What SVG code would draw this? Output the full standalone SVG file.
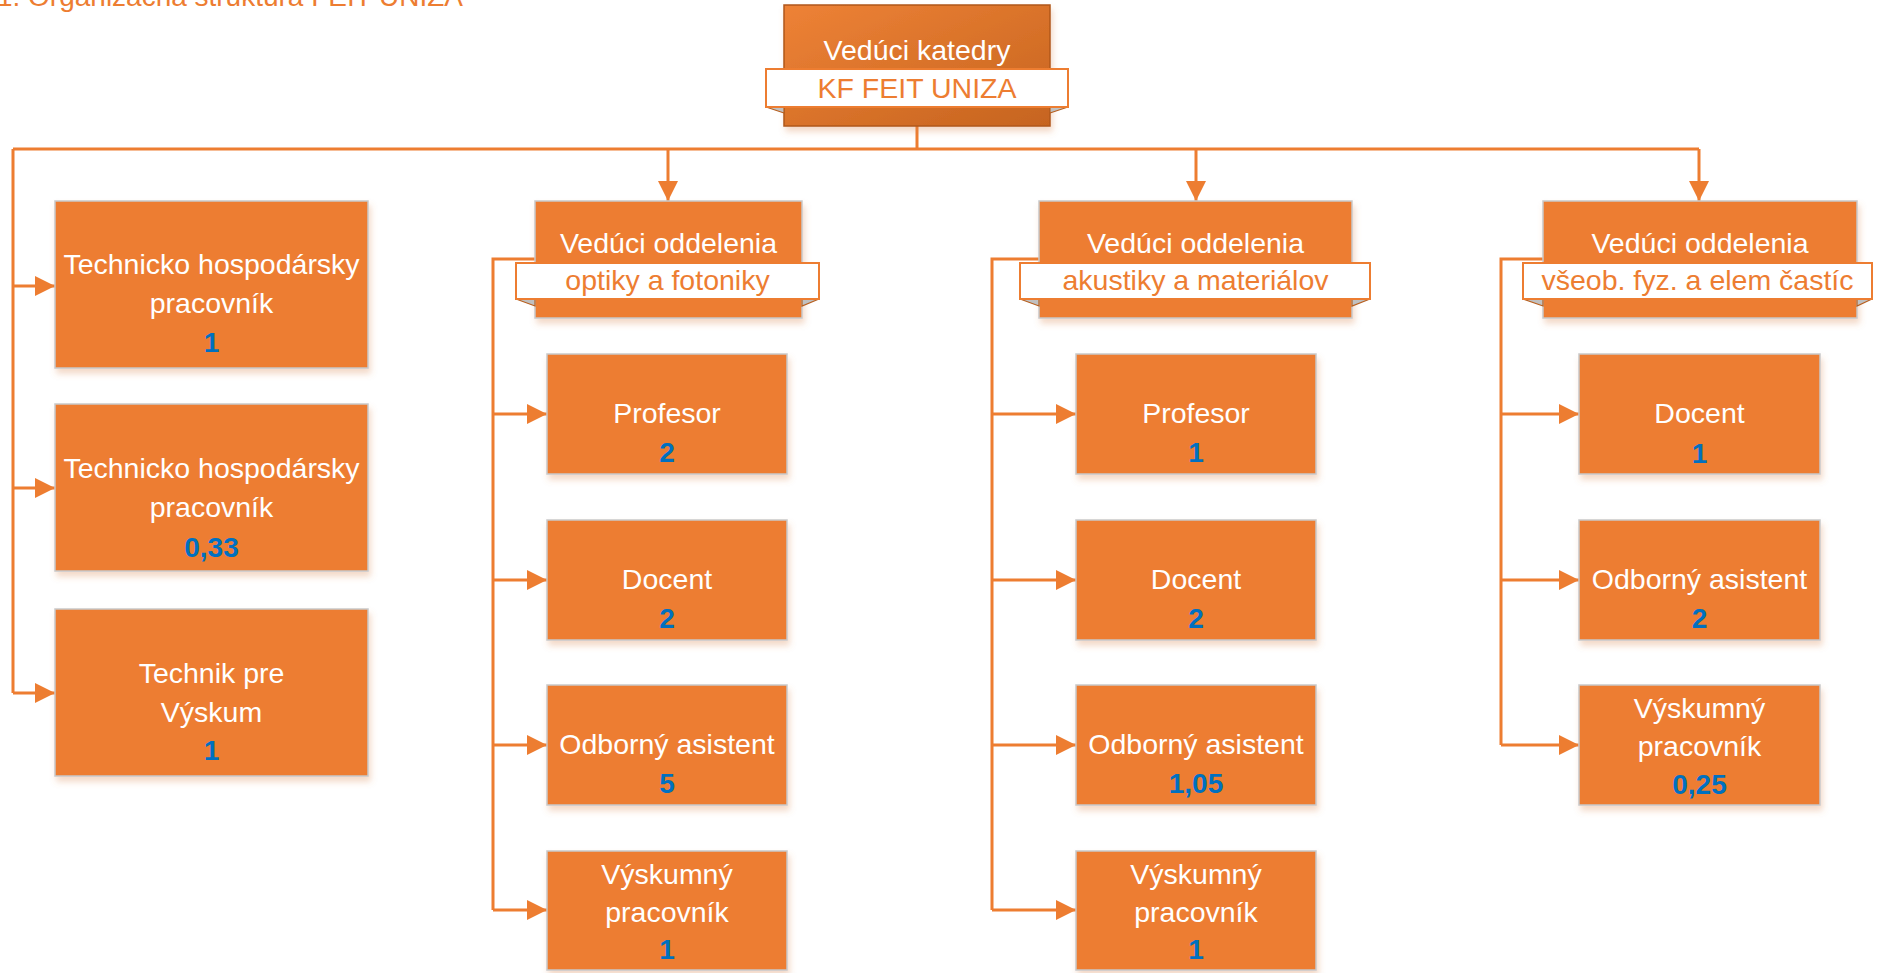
<svg xmlns="http://www.w3.org/2000/svg" width="1881" height="973" viewBox="0 0 1881 973">
<style>
.bg{fill:#ffffff}
.box{fill:#ED7D31;stroke:#C9C9C9;stroke-width:1.5}
.t{font-family:"Liberation Sans",Arial,sans-serif;font-size:28.5px;fill:#ffffff;text-anchor:middle}
.n{font-family:"Liberation Sans",Arial,sans-serif;font-size:28px;font-weight:bold;fill:#0070C0;text-anchor:middle}
.bt{font-family:"Liberation Sans",Arial,sans-serif;font-size:28.5px;fill:#ED7D31;text-anchor:middle}
.ban{fill:#ffffff;stroke:#ED7D31;stroke-width:2}
.fold{fill:#C0C0C0;stroke:#B85F1E;stroke-width:1.2}
.c{fill:none;stroke:#ED7D31;stroke-width:3;stroke-linejoin:miter}
.title{font-family:"Liberation Sans",Arial,sans-serif;font-size:27px;fill:#ED7D31}
</style>
<defs>
<marker id="arr" viewBox="0 0 20 20" refX="20" refY="10" markerWidth="20" markerHeight="20" markerUnits="userSpaceOnUse" orient="auto">
<path d="M0,0 L20,10 L0,20 z" fill="#ED7D31"/>
</marker>
<linearGradient id="topg" x1="0" y1="0" x2="1" y2="1">
<stop offset="0" stop-color="#EE8236"/>
<stop offset="1" stop-color="#C6641F"/>
</linearGradient>
<filter id="sh" x="-10%" y="-10%" width="125%" height="130%">
<feDropShadow dx="2" dy="5" stdDeviation="3" flood-color="#D9824A" flood-opacity="0.3"/>
</filter>
</defs>
<rect class="bg" x="0" y="0" width="1881" height="973"/>
<text class="title" x="-3" y="6" textLength="466" lengthAdjust="spacingAndGlyphs">1. Organizačná štruktúra FEIT UNIZA</text>

<g id="connectors">
<path class="c" d="M917,126 V149"/>
<path class="c" d="M13,149 H1699"/>
<path class="c" d="M13,149 V693"/>
<path class="c" d="M13,286 H55" marker-end="url(#arr)"/>
<path class="c" d="M13,488 H55" marker-end="url(#arr)"/>
<path class="c" d="M13,693 H55" marker-end="url(#arr)"/>
<path class="c" d="M668,149 V201" marker-end="url(#arr)"/>
<path class="c" d="M1196,149 V201" marker-end="url(#arr)"/>
<path class="c" d="M1699,149 V201" marker-end="url(#arr)"/>
<path class="c" d="M535,259 H493 V910"/>
<path class="c" d="M493,414 H547" marker-end="url(#arr)"/>
<path class="c" d="M493,580 H547" marker-end="url(#arr)"/>
<path class="c" d="M493,745 H547" marker-end="url(#arr)"/>
<path class="c" d="M493,910 H547" marker-end="url(#arr)"/>
<path class="c" d="M1039,259 H992 V910"/>
<path class="c" d="M992,414 H1076" marker-end="url(#arr)"/>
<path class="c" d="M992,580 H1076" marker-end="url(#arr)"/>
<path class="c" d="M992,745 H1076" marker-end="url(#arr)"/>
<path class="c" d="M992,910 H1076" marker-end="url(#arr)"/>
<path class="c" d="M1543,259 H1501 V745"/>
<path class="c" d="M1501,414 H1579" marker-end="url(#arr)"/>
<path class="c" d="M1501,580 H1579" marker-end="url(#arr)"/>
<path class="c" d="M1501,745 H1579" marker-end="url(#arr)"/>
</g>

<g id="head">
<rect x="784" y="5" width="266" height="121" fill="url(#topg)" stroke="#B0571A" stroke-width="1.5" filter="url(#sh)"/>
<polygon class="fold" points="766,107 784,107 784,113"/>
<polygon class="fold" points="1068,107 1050,107 1050,113"/>
<rect class="ban" x="766" y="69" width="302" height="38"/>
<text class="t" x="917" y="60">Vedúci katedry</text>
<text class="bt" x="917" y="98">KF FEIT UNIZA</text>
</g>

<g id="thp1">
<rect class="box" x="55" y="201" width="313" height="167" filter="url(#sh)"/>
<text class="t" x="211.5" y="274">Technicko hospodársky</text>
<text class="t" x="211.5" y="313">pracovník</text>
<text class="n" x="211.5" y="352">1</text>
</g>
<g id="thp2">
<rect class="box" x="55" y="404" width="313" height="167" filter="url(#sh)"/>
<text class="t" x="211.5" y="478">Technicko hospodársky</text>
<text class="t" x="211.5" y="517">pracovník</text>
<text class="n" x="211.5" y="557">0,33</text>
</g>
<g id="tpv">
<rect class="box" x="55" y="609" width="313" height="167" filter="url(#sh)"/>
<text class="t" x="211.5" y="683">Technik pre</text>
<text class="t" x="211.5" y="722">Výskum</text>
<text class="n" x="211.5" y="760">1</text>
</g>

<g id="dept1">
<rect class="box" x="535" y="201" width="267" height="117" filter="url(#sh)"/>
<polygon class="fold" points="516,299 535,299 535,306"/>
<polygon class="fold" points="819,299 802,299 802,306"/>
<rect class="ban" x="516" y="263" width="303" height="36"/>
<text class="t" x="668.5" y="253">Vedúci oddelenia</text>
<text class="bt" x="667.5" y="290">optiky a fotoniky</text>
</g>
<g id="dept2">
<rect class="box" x="1039" y="201" width="313" height="117" filter="url(#sh)"/>
<polygon class="fold" points="1020,299 1039,299 1039,306"/>
<polygon class="fold" points="1370,299 1352,299 1352,306"/>
<rect class="ban" x="1020" y="263" width="350" height="36"/>
<text class="t" x="1195.5" y="253">Vedúci oddelenia</text>
<text class="bt" x="1195.5" y="290">akustiky a materiálov</text>
</g>
<g id="dept3">
<rect class="box" x="1543" y="201" width="314" height="117" filter="url(#sh)"/>
<polygon class="fold" points="1523,299 1543,299 1543,306"/>
<polygon class="fold" points="1872,299 1857,299 1857,306"/>
<rect class="ban" x="1523" y="263" width="349" height="36"/>
<text class="t" x="1700" y="253">Vedúci oddelenia</text>
<text class="bt" x="1697.5" y="290">všeob. fyz. a elem častíc</text>
</g>

<g id="c1prof">
<rect class="box" x="547" y="354" width="240" height="120" filter="url(#sh)"/>
<text class="t" x="667" y="423">Profesor</text>
<text class="n" x="667" y="462">2</text>
</g>
<g id="c1doc">
<rect class="box" x="547" y="520" width="240" height="120" filter="url(#sh)"/>
<text class="t" x="667" y="589">Docent</text>
<text class="n" x="667" y="628">2</text>
</g>
<g id="c1oa">
<rect class="box" x="547" y="685" width="240" height="120" filter="url(#sh)"/>
<text class="t" x="667" y="754">Odborný asistent</text>
<text class="n" x="667" y="793">5</text>
</g>
<g id="c1vp">
<rect class="box" x="547" y="851" width="240" height="119" filter="url(#sh)"/>
<text class="t" x="667" y="884">Výskumný</text>
<text class="t" x="667" y="922">pracovník</text>
<text class="n" x="667" y="959">1</text>
</g>

<g id="c2prof">
<rect class="box" x="1076" y="354" width="240" height="120" filter="url(#sh)"/>
<text class="t" x="1196" y="423">Profesor</text>
<text class="n" x="1196" y="462">1</text>
</g>
<g id="c2doc">
<rect class="box" x="1076" y="520" width="240" height="120" filter="url(#sh)"/>
<text class="t" x="1196" y="589">Docent</text>
<text class="n" x="1196" y="628">2</text>
</g>
<g id="c2oa">
<rect class="box" x="1076" y="685" width="240" height="120" filter="url(#sh)"/>
<text class="t" x="1196" y="754">Odborný asistent</text>
<text class="n" x="1196" y="793">1,05</text>
</g>
<g id="c2vp">
<rect class="box" x="1076" y="851" width="240" height="119" filter="url(#sh)"/>
<text class="t" x="1196" y="884">Výskumný</text>
<text class="t" x="1196" y="922">pracovník</text>
<text class="n" x="1196" y="959">1</text>
</g>

<g id="c3doc">
<rect class="box" x="1579" y="354" width="241" height="120" filter="url(#sh)"/>
<text class="t" x="1699.5" y="423">Docent</text>
<text class="n" x="1699.5" y="463">1</text>
</g>
<g id="c3oa">
<rect class="box" x="1579" y="520" width="241" height="120" filter="url(#sh)"/>
<text class="t" x="1699.5" y="589">Odborný asistent</text>
<text class="n" x="1699.5" y="628">2</text>
</g>
<g id="c3vp">
<rect class="box" x="1579" y="685" width="241" height="120" filter="url(#sh)"/>
<text class="t" x="1699.5" y="718">Výskumný</text>
<text class="t" x="1699.5" y="756">pracovník</text>
<text class="n" x="1699.5" y="794">0,25</text>
</g>
</svg>
